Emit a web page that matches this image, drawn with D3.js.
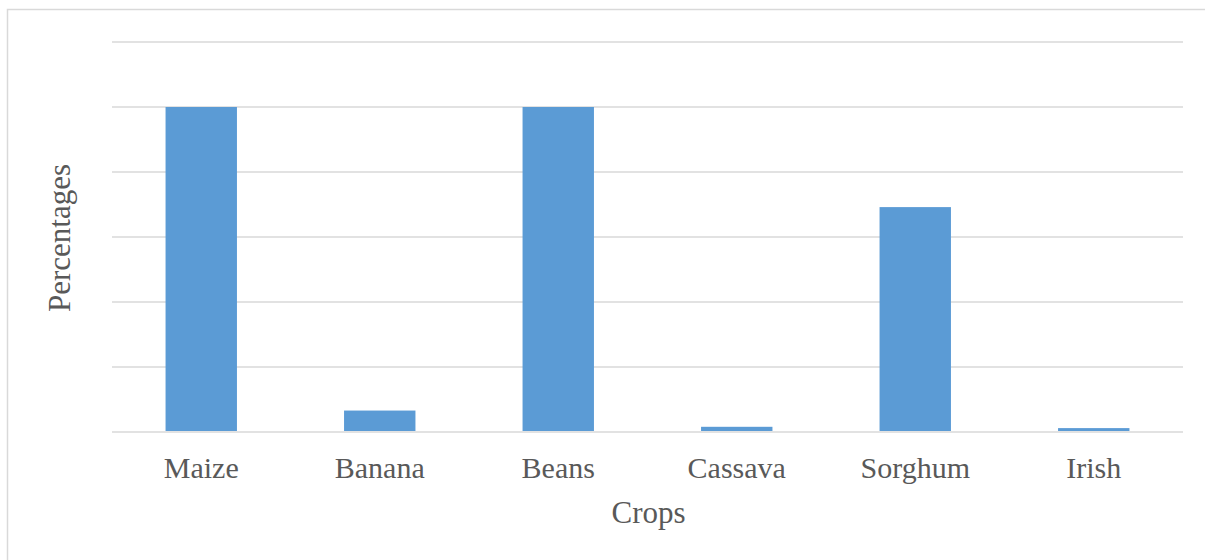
<!DOCTYPE html>
<html><head><meta charset="utf-8">
<script src="https://cdn.jsdelivr.net/npm/d3@7"></script>
<style>body{margin:0;background:#fff}svg{display:block}text{font-family:"Liberation Serif","DejaVu Serif",serif}</style>
</head><body>
<script>
const categories = ["Maize","Banana","Beans","Cassava","Sorghum","Irish"];
const values = [50, 3.3, 50, 0.8, 34.6, 0.6];
const gridTicks = [0,10,20,30,40,50,60];
const xTitle = "Crops";
const yTitle = "Percentages";

(function(){
const W = 1205, H = 560;
const svg = d3.select("body").append("svg").attr("width", W).attr("height", H);
const pl = 112, pr = 1183, pt = 42, pb = 432;

svg.append("rect").attr("x", 7.5).attr("y", 9.5).attr("width", W + 10).attr("height", H + 10)
  .attr("fill", "none").attr("stroke", "#D9D9D9").attr("stroke-width", 1.5);

const x = d3.scaleBand().domain(categories).range([pl, pr]).paddingInner(0.6).paddingOuter(0.3);
const y = d3.scaleLinear().domain([0, 60]).range([pb, pt]);

svg.append("g").selectAll("line").data(gridTicks).join("line")
  .attr("x1", pl).attr("x2", pr)
  .attr("y1", d => y(d)).attr("y2", d => y(d))
  .attr("stroke", "#D9D9D9").attr("stroke-width", 1.5);

svg.append("g").selectAll("rect").data(categories).join("rect")
  .attr("x", d => x(d)).attr("width", x.bandwidth())
  .attr("y", (d,i) => y(values[i])).attr("height", (d,i) => y(0) - y(values[i]) - 1)
  .attr("fill", "#5B9BD5");

svg.append("g").selectAll("text").data(categories).join("text")
  .attr("x", d => x(d) + x.bandwidth()/2).attr("y", 478)
  .attr("text-anchor", "middle").attr("font-size", 30)
  .attr("fill", "#595959").text(d => d);

svg.append("text").attr("x", (pl + pr)/2 + 1).attr("y", 523)
  .attr("text-anchor", "middle").attr("font-size", 31)
  .attr("fill", "#595959").text(xTitle);

svg.append("text").attr("transform", `translate(70,238) rotate(-90)`)
  .attr("text-anchor", "middle").attr("font-size", 31)
  .attr("fill", "#595959").text(yTitle);
})();
</script>
</body></html>
